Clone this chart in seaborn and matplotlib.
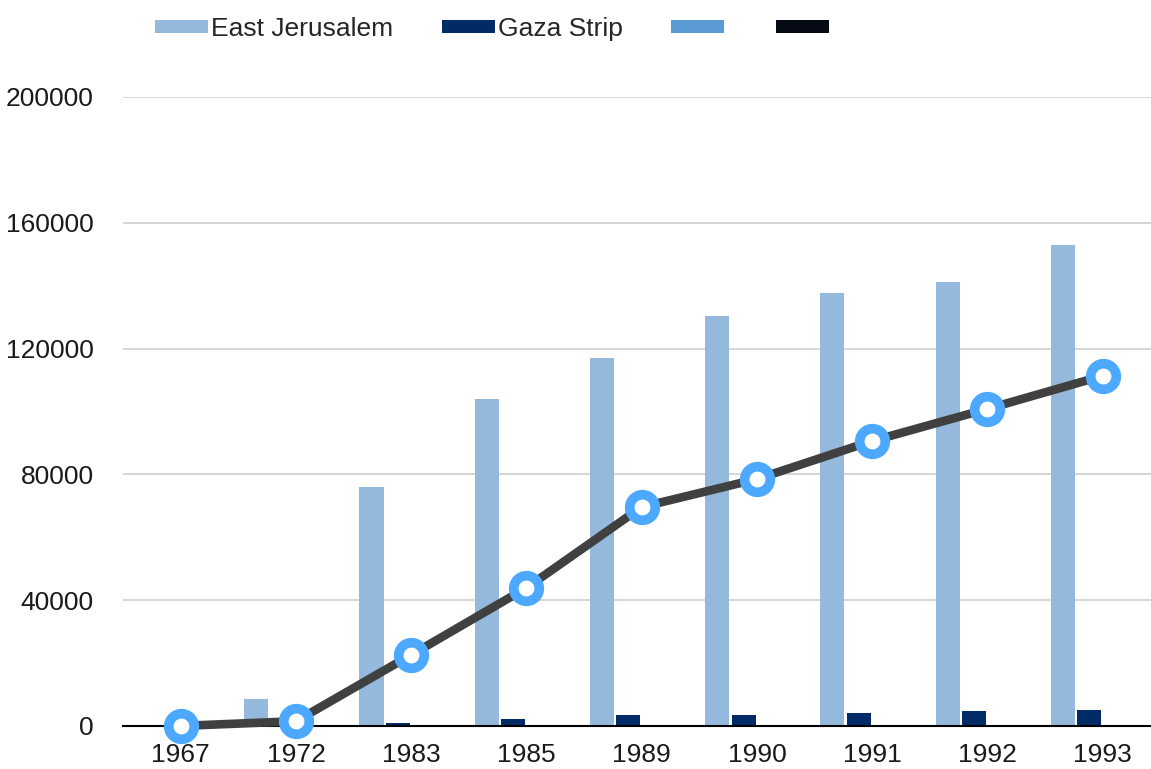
import numpy as np
import pandas as pd
import seaborn as sns
import matplotlib.pyplot as plt
from matplotlib.patches import Patch

years = ["1967", "1972", "1983", "1985", "1989", "1990", "1991", "1992", "1993"]
east_jerusalem = [0, 8600, 76100, 103900, 117100, 130400, 137500, 141000, 152800]
gaza_strip = [0, 700, 900, 2200, 3500, 3500, 4200, 4700, 5100]
series3 = [0, 0, 0, 0, 0, 0, 0, 0, 0]
series4 = [0, 0, 0, 0, 0, 0, 0, 0, 0]
line_vals = [0, 1500, 22600, 43900, 69600, 78500, 90600, 100800, 111300]

series_names = ["East Jerusalem", "Gaza Strip", "S3", "S4"]
legend_labels = ["East Jerusalem", "Gaza Strip", "", ""]
bar_colors = ["#95B9DC", "#002B66", "#5B9BD5", "#050A14"]

sns.set_style("white")
plt.rcParams["font.family"] = ["Liberation Sans", "DejaVu Sans"]

rows = []
for name, vals in zip(series_names, [east_jerusalem, gaza_strip, series3, series4]):
    for y, v in zip(years, vals):
        rows.append((y, name, v))
df = pd.DataFrame(rows, columns=["year", "series", "value"])

fig = plt.figure(figsize=(11.51, 7.69), dpi=100)
ax = fig.add_axes([0.107, 0.056, 0.901, 0.818])

sns.barplot(data=df, x="year", y="value", hue="series", order=years,
            hue_order=series_names, palette=bar_colors, saturation=1,
            width=0.92, gap=0.09, linewidth=0, errorbar=None, legend=False,
            ax=ax)

sns.pointplot(x=years, y=line_vals, order=years, color="#404040",
              errorbar=None, ax=ax)
ln = ax.lines[-1]
ln.set_linewidth(6.2)
ln.set_marker("o")
ln.set_markersize(18.4)
ln.set_markeredgewidth(7.0)
ln.set_markeredgecolor("#4DA9FF")
ln.set_markerfacecolor("white")
ln.set_zorder(5)
ln.set_clip_on(False)

ax.set_ylim(0, 200000)
ax.set_xlim(-0.5, len(years) - 0.5)
ax.set_yticks(np.arange(0, 200001, 40000))
ax.grid(axis="y", color="#CCCCCC", linewidth=1.1)
ax.set_axisbelow(True)
for s in ["top", "right", "left"]:
    ax.spines[s].set_visible(False)
ax.spines["bottom"].set_color("black")
ax.spines["bottom"].set_linewidth(1.5)
ax.spines["bottom"].set_zorder(4)
ax.tick_params(axis="both", length=0, labelsize=19, labelcolor="#1A1A1A")
ax.tick_params(axis="y", pad=21)
ax.tick_params(axis="x", pad=12)
ax.set_xlabel("")
ax.set_ylabel("")

handles = [Patch(facecolor=c, edgecolor="none") for c in bar_colors]
fig.legend(handles, legend_labels, ncol=4, loc="center left",
           bbox_to_anchor=(0.114, 0.962), frameon=False, fontsize=19,
           handlelength=2.0, handleheight=0.4, handletextpad=0.12,
           columnspacing=1.85)

fig.savefig("out.png", dpi=100)
